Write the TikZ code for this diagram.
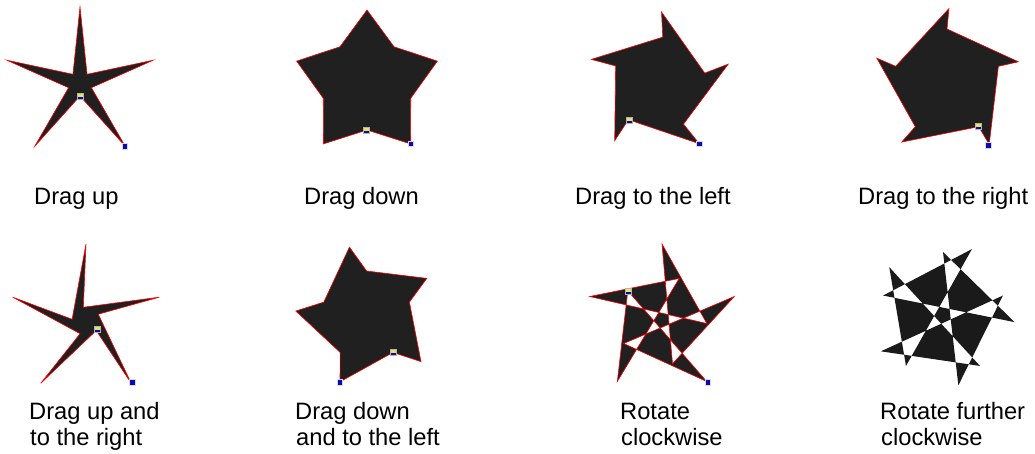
\documentclass[tikz,border=0pt]{standalone}
\usepackage{fontspec}
\setmainfont{Liberation Sans}
\definecolor{starfill}{HTML}{202020}
\definecolor{starfilltwo}{HTML}{1A1A1A}
\definecolor{hy}{HTML}{E6E65A}
\definecolor{hb}{HTML}{0A0AB4}
\newcommand{\starpath}[8]{% #1 style, #2 cx, #3 cy, #4 R, #5 a0, #6 r, #7 delta
  \path[#1] ({#2+#4*cos(#5)},{#3-#4*sin(#5)})
    \foreach \k in {0,...,4} {
      -- ({#2+#6*cos(#5-72*\k+#7)},{#3-#6*sin(#5-72*\k+#7)})
      -- ({#2+#4*cos(#5-72*(\k+1))},{#3-#4*sin(#5-72*(\k+1))})
    } -- cycle;
}
\tikzset{
  outlined/.style={fill=starfill, draw=red, line width=0.6pt, even odd rule, line join=miter},
  plainstar/.style={fill=starfilltwo, even odd rule},
  bhandle/.style={rectangle, minimum size=5.5pt, inner sep=0pt, fill=hb, draw=white!70!gray, line width=0.4pt},
  yhandle/.style={rectangle, minimum size=6pt, inner sep=0pt, fill=hy, draw=gray!60, line width=0.4pt,
    path picture={\fill[hb] (path picture bounding box.south west) rectangle ([yshift=2pt]path picture bounding box.south east);}},
  lab/.style={anchor=base west, inner sep=0pt, font=\fontsize{23.7}{26}\selectfont}
}
\begin{document}
\begin{tikzpicture}[x=1pt,y=-1pt]
\useasboundingbox (0,0) rectangle (1035,454);
% row 1
\starpath{outlined}{80}{84}{77}{90}{12}{-36}{s1}
\starpath{outlined}{367}{84}{74}{90}{46}{-36}{s2}
\starpath{outlined}{659}{84}{72}{88}{47}{-74.6}{s3}
\starpath{outlined}{947}{83}{74.5}{88.5}{54}{1.5}{s4}
% row 2
\starpath{outlined}{86}{321}{77}{90}{14}{11}{s5}
\starpath{outlined}{366.6}{316}{71}{104}{45}{-14}{s6}
\starpath{outlined}{662}{320}{76}{90}{45}{-166.5}{s7}
\starpath{plainstar}{943}{315}{63}{90}{72}{-167.7}{s8}
% handles
\node[yhandle] (y1) at (80,96) {};
\node[bhandle] (b1) at (124.5,146) {};
\node[yhandle] (y2) at (366,130) {};
\node[bhandle] (b2) at (410.5,143.5) {};
\node[yhandle] (y3) at (629,120) {};
\node[bhandle] (b3) at (699,143.5) {};
\node[yhandle] (y4) at (978,126) {};
\node[bhandle] (b4) at (988,145) {};
\node[yhandle] (y5) at (97,329) {};
\node[bhandle] (b5) at (132,382) {};
\node[yhandle] (y6) at (393,352) {};
\node[bhandle] (b6) at (339.5,382) {};
\node[yhandle] (y7) at (628,291) {};
\node[bhandle] (b7) at (707.5,382) {};
% labels
\node[lab] (l1) at (34,205) {Drag up};
\node[lab] (l2) at (304,205) {Drag down};
\node[lab] (l3) at (575,205) {Drag to the left};
\node[lab] (l4) at (858,205) {Drag to the right};
\node[lab] (l5a) at (29,419) {Drag up and};
\node[lab] (l5b) at (30,445) {to the right};
\node[lab] (l6a) at (295,419) {Drag down};
\node[lab] (l6b) at (296,445) {and to the left};
\node[lab] (l7a) at (620,419) {Rotate};
\node[lab] (l7b) at (621,445) {clockwise};
\node[lab] (l8a) at (880,419) {Rotate further};
\node[lab] (l8b) at (881,445) {clockwise};
\end{tikzpicture}
\end{document}
